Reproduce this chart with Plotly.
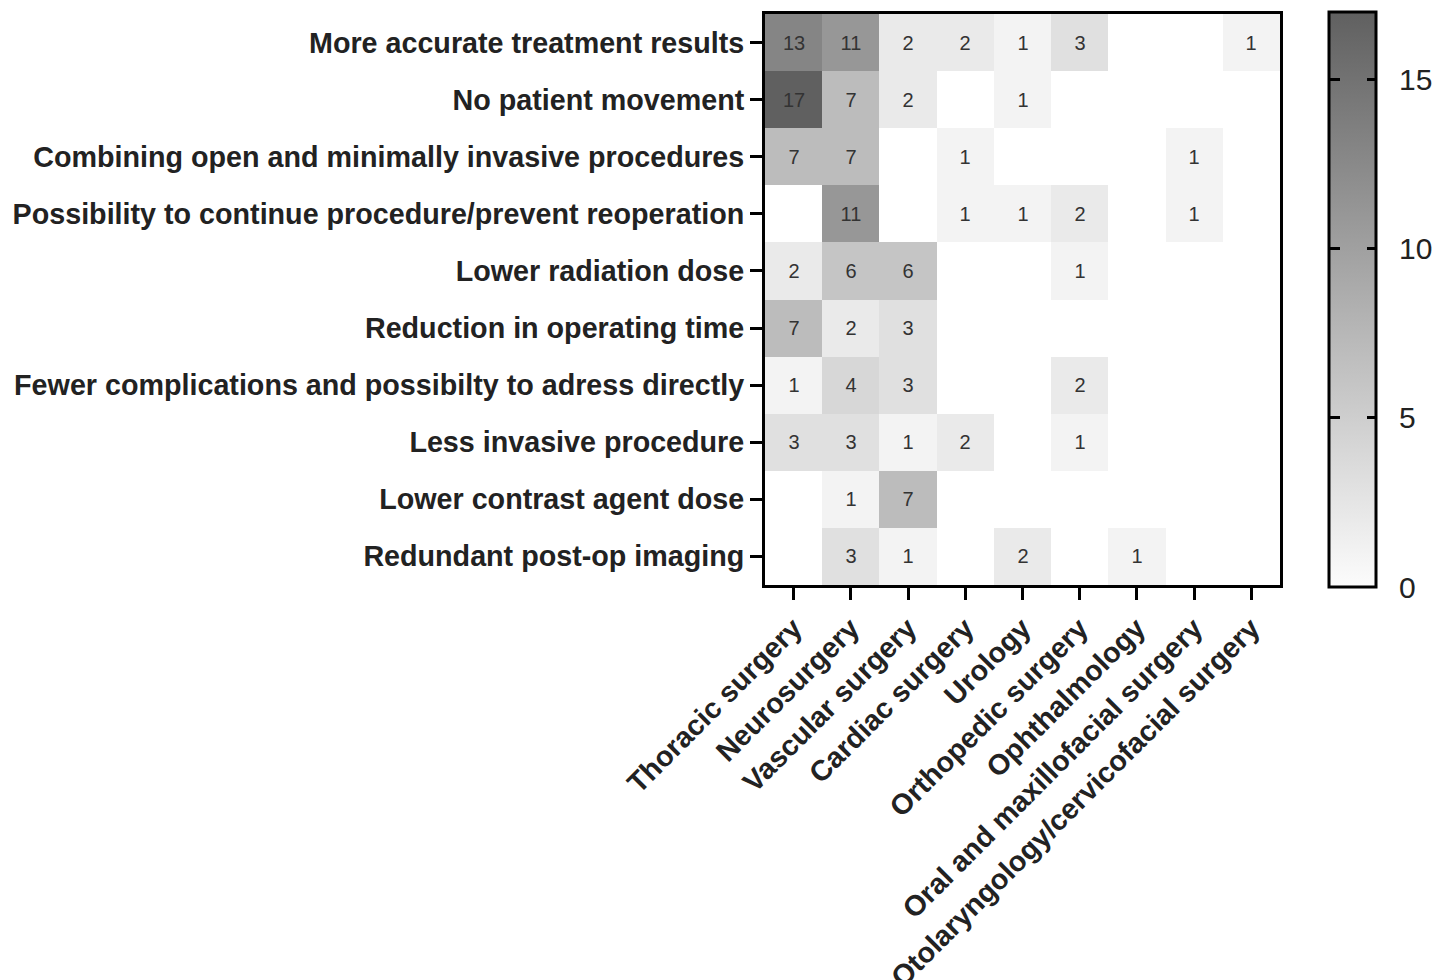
import plotly.graph_objects as go

benefits = [
    "More accurate treatment results",
    "No patient movement",
    "Combining open and minimally invasive procedures",
    "Possibility to continue procedure/prevent reoperation",
    "Lower radiation dose",
    "Reduction in operating time",
    "Fewer complications and possibilty to adress directly",
    "Less invasive procedure",
    "Lower contrast agent dose",
    "Redundant post-op imaging",
]
specialties = [
    "Thoracic surgery",
    "Neurosurgery",
    "Vascular surgery",
    "Cardiac surgery",
    "Urology",
    "Orthopedic surgery",
    "Ophthalmology",
    "Oral and maxillofacial surgery",
    "Otolaryngology/cervicofacial surgery",
]
N = None
counts = [
    [13, 11, 2, 2, 1, 3, N, N, 1],
    [17, 7, 2, N, 1, N, N, N, N],
    [7, 7, N, 1, N, N, N, 1, N],
    [N, 11, N, 1, 1, 2, N, 1, N],
    [2, 6, 6, N, N, 1, N, N, N],
    [7, 2, 3, N, N, N, N, N, N],
    [1, 4, 3, N, N, 2, N, N, N],
    [3, 3, 1, 2, N, 1, N, N, N],
    [N, 1, 7, N, N, N, N, N, N],
    [N, 3, 1, N, 2, N, 1, N, N],
]
cbar_ticks = [0, 5, 10, 15]
zmax = 17

FONT = "Liberation Sans, Arial"
PLOT_W = 516  # plot-area width in px (for colorbar placement)
CB_X = 1.096
CB_T = 47
CB_LEN = 1.007
TRANSPARENT = [[0, "rgba(0,0,0,0)"], [1, "rgba(0,0,0,0)"]]

text = [["" if v is None else str(v) for v in row] for row in counts]

fig = go.Figure(go.Heatmap(
    z=counts, x=specialties, y=benefits, text=text,
    texttemplate="%{text}",
    textfont=dict(family=FONT, size=20, color="#333333"),
    colorscale=[[0, "rgb(252,252,252)"], [1, "rgb(96,96,96)"]],
    zmin=0, zmax=zmax, hoverongaps=False,
    colorbar=dict(
        x=CB_X, xanchor="left", xref="paper",
        y=0.5, yanchor="middle", len=CB_LEN, lenmode="fraction",
        thickness=CB_T, outlinewidth=3, outlinecolor="black",
        tickvals=cbar_ticks, ticks="outside", ticklen=16, tickwidth=1,
        tickcolor="rgba(0,0,0,0)",
        tickfont=dict(family=FONT, size=30, color="#222222"),
        ypad=0, xpad=0,
    ),
))

# transparent colorbars used only to draw the inward tick marks on both edges
fig.add_trace(go.Scatter(
    x=[None], y=[None], mode="markers", hoverinfo="skip", showlegend=False,
    marker=dict(
        color=[0], cmin=0, cmax=zmax, showscale=True, colorscale=TRANSPARENT,
        colorbar=dict(
            x=CB_X - 10 / PLOT_W, xanchor="left", xref="paper",
            y=0.5, yanchor="middle", len=CB_LEN, lenmode="fraction",
            thickness=10, outlinewidth=0, bgcolor="rgba(0,0,0,0)",
            tickvals=cbar_ticks[1:], ticks="outside", ticklen=11, tickwidth=3,
            tickcolor="black", showticklabels=False, ypad=0, xpad=0,
        ),
    ),
))
fig.add_trace(go.Scatter(
    x=[None], y=[None], mode="markers", hoverinfo="skip", showlegend=False,
    marker=dict(
        color=[0], cmin=0, cmax=zmax, showscale=True, colorscale=TRANSPARENT,
        colorbar=dict(
            x=CB_X, xanchor="left", xref="paper",
            y=0.5, yanchor="middle", len=CB_LEN, lenmode="fraction",
            thickness=CB_T, outlinewidth=0, bgcolor="rgba(0,0,0,0)",
            tickvals=cbar_ticks[1:], ticks="inside", ticklen=9, tickwidth=3,
            tickcolor="black", showticklabels=False, ypad=0, xpad=0,
        ),
    ),
))

axis_font = dict(family=FONT, size=28.7, color="#222222", weight="bold")
fig.update_xaxes(
    tickangle=-45, tickfont=axis_font, showline=True, linewidth=3,
    linecolor="black", mirror=True, ticks="outside", ticklen=12,
    tickwidth=3, tickcolor="black", showgrid=False, zeroline=False,
)
fig.update_yaxes(
    autorange="reversed", tickfont=axis_font, showline=True, linewidth=3,
    linecolor="black", mirror=True, ticks="outside", ticklen=12,
    tickwidth=3, tickcolor="black", showgrid=False, zeroline=False,
)

fig.update_layout(
    width=1441, height=972,
    margin=dict(l=756.5, r=168.5, t=5.5, b=394.5, autoexpand=False),
    plot_bgcolor="white", paper_bgcolor="white",
    font=dict(family=FONT),
)
fig.write_html("out.html")
